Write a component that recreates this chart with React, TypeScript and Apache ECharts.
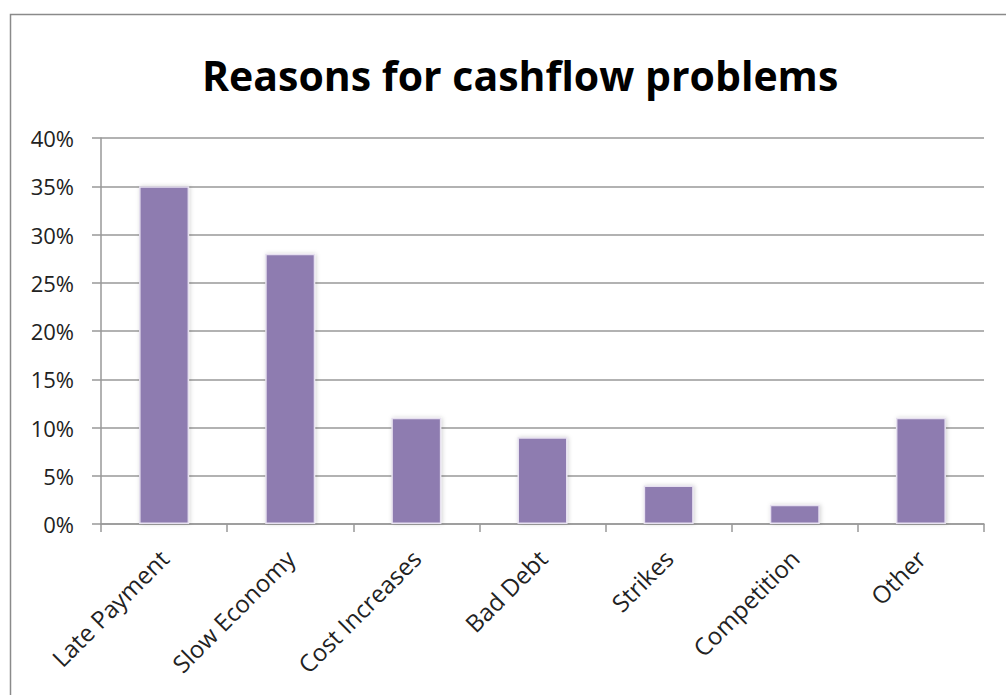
import React, { useEffect, useRef } from "react";
import * as echarts from "echarts";

const categories = ["Late Payment", "Slow Economy", "Cost Increases", "Bad Debt", "Strikes", "Competition", "Other"];
const values = [35, 28, 11, 9, 4, 2, 11];
const title = "Reasons for cashflow problems";

export default function App() {
  const ref = useRef<HTMLDivElement>(null);
  useEffect(() => {
    const chart = echarts.init(ref.current!, null, { renderer: "svg" });
    chart.setOption({
      animation: false,
      backgroundColor: "#ffffff",
      title: {
        text: title,
        left: 197,
        top: 49,
        textStyle: { fontFamily: "Open Sans", fontWeight: "bold", fontSize: 41, color: "#000" },
      },
      graphic: [
        {
          type: "rect",
          shape: { x: 10.5, y: 14.5, width: 1010, height: 700 },
          style: { fill: "none", stroke: "#8a8a8a", lineWidth: 1.5 },
          silent: true,
        },
      ],
      grid: { left: 101, right: 22, top: 138, bottom: 171 },
      xAxis: {
        type: "category",
        data: categories,
        axisLine: { lineStyle: { color: "#999", width: 1.5 } },
        axisTick: { show: true, length: 8, lineStyle: { color: "#999", width: 1.5 } },
        axisLabel: {
          rotate: 45,
          interval: 0,
          margin: 30,
          fontFamily: "Open Sans",
          fontSize: 24,
          color: "#222",
        },
      },
      yAxis: {
        type: "value",
        min: 0,
        max: 40,
        interval: 5,
        axisLine: { show: true, lineStyle: { color: "#999", width: 1.5 } },
        axisTick: { show: true, length: 9, lineStyle: { color: "#999", width: 1.5 } },
        splitLine: { lineStyle: { color: "#999", width: 1.5 } },
        axisLabel: {
          formatter: "{value}%",
          margin: 27,
          fontFamily: "Open Sans",
          fontSize: 22,
          color: "#222",
        },
      },
      series: [
        {
          type: "bar",
          data: values,
          barWidth: 50,
          itemStyle: {
            color: "#8e7cb0",
            borderColor: "#e6e0ef",
            borderWidth: 1.5,
            shadowColor: "rgba(0,0,0,0.18)",
            shadowBlur: 4,
            shadowOffsetX: 1,
          },
        },
      ],
    });
    return () => chart.dispose();
  }, []);
  return (
    <div
      ref={ref}
      style={{ position: "fixed", left: 0, top: 0, width: 1006, height: 695 }}
    />
  );
}
